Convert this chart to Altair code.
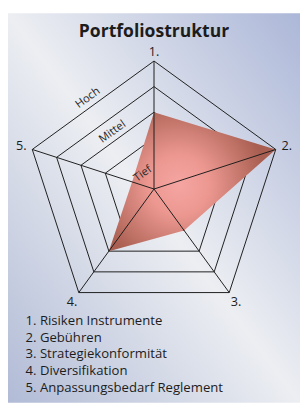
import math
import altair as alt
import pandas as pd

# ---- data ----
TITLE = "Portfoliostruktur"
AXES = ["1.", "2.", "3.", "4.", "5."]
NAMES = [
    "1. Risiken Instrumente",
    "2. Gebühren",
    "3. Strategiekonformität",
    "4. Diversifikation",
    "5. Anpassungsbedarf Reglement",
]
VALUES = [3, 5, 2, 3, 0.9]
RINGS = [2, 3, 4, 5]
MAXV = 5
LEVEL_LABELS = ["Hoch", "Mittel", "Tief"]
LEVEL_LABEL_POS = [5.42, 3.4, 0.9]

W, H = 300, 400
U = 26.3
CX, CY = 150, 180.5
XD = [-CX / U, (W - CX) / U]
YD = [-(H - CY) / U, CY / U]

def ang(i):
    return math.radians(90 - 72 * i)

def px(r, i):
    return r * math.cos(ang(i))

def py(r, i):
    return r * math.sin(ang(i))

xs = alt.Scale(domain=XD)
ys = alt.Scale(domain=YD)

def X(f):
    return alt.X(f, type="quantitative", scale=xs, axis=None)

def Y(f):
    return alt.Y(f, type="quantitative", scale=ys, axis=None)

# rings
ring_rows = []
for lv in RINGS:
    for i in range(len(AXES)):
        ring_rows.append({"lv": lv, "o": i, "x": px(lv, i), "y": py(lv, i)})
ring_df = pd.DataFrame(ring_rows)

spoke_df = pd.DataFrame({
    "x": [0.0] * len(AXES), "y": [0.0] * len(AXES),
    "x2": [px(MAXV, i) for i in range(len(AXES))],
    "y2": [py(MAXV, i) for i in range(len(AXES))],
})

poly_df = pd.DataFrame({
    "o": list(range(len(VALUES))),
    "x": [px(v, i) for i, v in enumerate(VALUES)],
    "y": [py(v, i) for i, v in enumerate(VALUES)],
})

LAB_R = [MAXV + 0.36, MAXV + 0.45, MAXV + 0.45, MAXV + 0.45, MAXV + 0.45]
lab_df = pd.DataFrame({
    "t": AXES,
    "x": [px(LAB_R[i], i) for i in range(len(AXES))],
    "y": [py(LAB_R[i], i) for i in range(len(AXES))],
})

mx = (math.cos(ang(4)) + math.cos(ang(0))) / 2
my = (math.sin(ang(4)) + math.sin(ang(0))) / 2
lvl_df = pd.DataFrame({
    "t": LEVEL_LABELS,
    "x": [p * mx for p in LEVEL_LABEL_POS],
    "y": [p * my for p in LEVEL_LABEL_POS],
})

legend_df = pd.DataFrame({"t": NAMES, "k": list(range(len(NAMES)))})

bg_grad = alt.LinearGradient(
    gradient="linear", x1=0, y1=1, x2=1, y2=0,
    stops=[
        alt.GradientStop(color="#b1bbd6", offset=0),
        alt.GradientStop(color="#eceef2", offset=0.5),
        alt.GradientStop(color="#acb7d8", offset=1),
    ],
)
poly_grad = alt.RadialGradient(
    gradient="radial", x1=0.42, y1=0.52, r1=0, x2=0.42, y2=0.52, r2=0.52,
    stops=[
        alt.GradientStop(color="#f6a5a2", offset=0),
        alt.GradientStop(color="#ec9891", offset=0.35),
        alt.GradientStop(color="#a85e50", offset=1),
    ],
)

FONT = "Open Sans"
INK = "#1c1c1c"

bg = alt.Chart(pd.DataFrame({"a": [0]})).mark_rect(fill=bg_grad).encode(
    x=alt.value(0), x2=alt.value(W), y=alt.value(0), y2=alt.value(H)
)

rings = alt.Chart(ring_df).mark_line(
    interpolate="linear-closed", color=INK, strokeWidth=1
).encode(x=X("x"), y=Y("y"), detail="lv:N", order="o:Q")

poly = alt.Chart(poly_df).mark_line(
    interpolate="linear-closed", fill=poly_grad, strokeOpacity=0
).encode(x=X("x"), y=Y("y"), order="o:Q")

spokes = alt.Chart(spoke_df).mark_rule(color=INK, strokeWidth=1).encode(
    x=X("x"), y=Y("y"), x2="x2:Q", y2="y2:Q"
)

labels = alt.Chart(lab_df).mark_text(
    font=FONT, fontSize=13, color=INK, align="center", baseline="middle"
).encode(x=X("x"), y=Y("y"), text="t:N")

lvl = alt.Chart(lvl_df).mark_text(
    font=FONT, fontSize=11.5, color="#2a2a2a", align="center",
    baseline="middle", angle=324
).encode(x=X("x"), y=Y("y"), text="t:N")

title = alt.Chart(pd.DataFrame({"t": [TITLE]})).mark_text(
    font=FONT, fontSize=18, fontWeight="bold", color=INK,
    align="center", baseline="alphabetic"
).encode(x=alt.value(150), y=alt.value(24), text="t:N")

legend = alt.Chart(legend_df).transform_calculate(
    yy="320 + datum.k * 17.3"
).mark_text(
    font=FONT, fontSize=13.5, color=INK, align="left", baseline="alphabetic"
).encode(x=alt.value(18), y=alt.Y("yy:Q", scale=None, axis=None), text="t:N")

chart = alt.layer(bg, rings, poly, spokes, labels, lvl, title, legend).properties(
    width=W, height=H, padding=0, autosize=alt.AutoSizeParams(type="none")
).configure_view(strokeWidth=0)

chart.save("out.html", embed_options={"renderer": "svg", "actions": False})
